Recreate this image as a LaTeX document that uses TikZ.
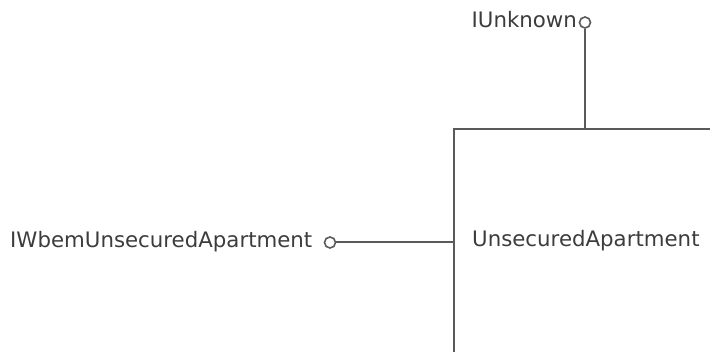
\documentclass[tikz,border=0pt]{standalone}
\usepackage{fontspec}
\setmainfont{DejaVu Sans}
\definecolor{txtgray}{RGB}{60,60,60}
\definecolor{linegray}{RGB}{90,90,90}
\begin{document}
\begin{tikzpicture}[x=1pt,y=-1pt,
  lbl/.style={inner sep=0pt, text=txtgray, font=\fontsize{21.3}{25}\selectfont},
  conn/.style={draw=linegray, line width=2pt},
  lolly/.style={circle, draw=linegray, line width=1.6pt, minimum size=11pt, inner sep=0pt, fill=white},
  compbox/.style={draw=linegray, line width=2pt, minimum width=400pt, minimum height=400pt, inner sep=0pt}]
\useasboundingbox (0,0) rectangle (710,352);
\clip (0,0) rectangle (710,352);
\node[compbox, anchor=north west] (comp) at (453,128) {};
\node[lbl, anchor=base west] (compname) at (472,247) {UnsecuredApartment};
\node[lolly] (c1) at (585,22.5) {};
\node[lolly] (c2) at (330,242.5) {};
\node[lbl, anchor=base east] (t1) at (577,28) {IUnknown};
\node[lbl, anchor=base west] (t2) at (10,248) {IWbemUnsecuredApartment};
\draw[conn] (c1) -- (c1 |- comp.north);
\draw[conn] (c2) -- (c2 -| comp.west);
\end{tikzpicture}
\end{document}
